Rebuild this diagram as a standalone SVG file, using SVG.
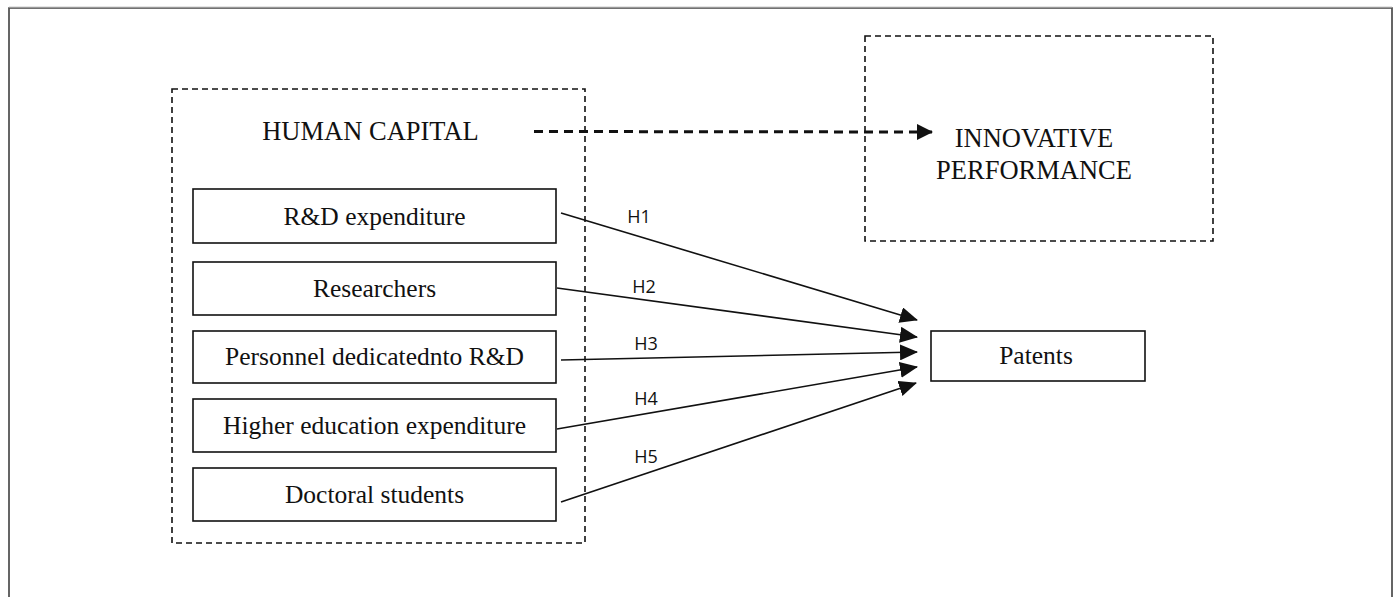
<svg xmlns="http://www.w3.org/2000/svg" width="1395" height="597" viewBox="0 0 1395 597">
<style>
.box{fill:#fff;stroke:#111;stroke-width:1.6}
.dbox{fill:none;stroke:#111;stroke-width:1.6;stroke-dasharray:6 4}
.t{font-family:"Liberation Serif","Times New Roman",serif;font-size:25.5px;fill:#111;text-anchor:middle}
.tl{font-size:26.5px}
.h{font-family:"Open Sans","Liberation Sans",sans-serif;font-size:18px;fill:#111;text-anchor:middle}
.arr{stroke:#111;stroke-width:1.6;fill:none;marker-end:url(#ah)}
</style>
<defs>
<marker id="ah" markerUnits="userSpaceOnUse" markerWidth="18" markerHeight="16" viewBox="0 0 18 16" refX="17" refY="8" orient="auto">
<path d="M0,0 L18,8 L0,16 Z" fill="#111"/>
</marker>
<marker id="ah2" markerUnits="userSpaceOnUse" markerWidth="16" markerHeight="16" viewBox="0 0 16 16" refX="15" refY="8" orient="auto">
<path d="M0,0 L16,8 L0,16 Z" fill="#111"/>
</marker>
</defs>
<rect width="1395" height="597" fill="#fff"/>
<g id="frame">
<path d="M9,600 V8 H1392 V600" fill="none" stroke="#333" stroke-width="1.5"/>
<line x1="9" y1="7.5" x2="1392" y2="7.5" stroke="#999" stroke-width="1.5"/>
</g>
<g id="human-capital">
<rect class="dbox" x="172" y="89" width="413" height="454"/>
<text class="t tl" x="370.5" y="140">HUMAN CAPITAL</text>
</g>
<g id="innovative-performance">
<rect class="dbox" x="865" y="36" width="348" height="205"/>
<text class="t tl" x="1034" y="147">INNOVATIVE</text>
<text class="t tl" x="1034" y="179">PERFORMANCE</text>
</g>
<g id="rd-expenditure">
<rect class="box" x="193" y="189" width="363" height="54"/>
<text class="t" x="374.5" y="225">R&amp;D expenditure</text>
</g>
<g id="researchers">
<rect class="box" x="193" y="262" width="363" height="53"/>
<text class="t" x="374.5" y="297">Researchers</text>
</g>
<g id="personnel">
<rect class="box" x="193" y="331" width="363" height="52"/>
<text class="t" x="374.5" y="365">Personnel dedicatednto R&amp;D</text>
</g>
<g id="higher-education">
<rect class="box" x="193" y="399" width="363" height="53"/>
<text class="t" x="374.5" y="434">Higher education expenditure</text>
</g>
<g id="doctoral-students">
<rect class="box" x="193" y="468" width="363" height="53"/>
<text class="t" x="374.5" y="503">Doctoral students</text>
</g>
<g id="patents">
<rect class="box" x="931" y="331" width="214" height="50"/>
<text class="t" x="1036" y="364">Patents</text>
</g>
<g id="connectors">
<line x1="534" y1="131.5" x2="932" y2="132" stroke="#111" stroke-width="3" stroke-dasharray="9 6" marker-end="url(#ah2)"/>
<line class="arr" x1="561" y1="213" x2="917" y2="320"/>
<line class="arr" x1="557" y1="288" x2="917" y2="337"/>
<line class="arr" x1="561" y1="360" x2="917" y2="352"/>
<line class="arr" x1="557" y1="429" x2="917" y2="367"/>
<line class="arr" x1="561" y1="502" x2="916" y2="383"/>
<text class="h" x="639" y="223">H1</text>
<text class="h" x="644" y="293">H2</text>
<text class="h" x="646" y="350">H3</text>
<text class="h" x="646" y="405">H4</text>
<text class="h" x="646" y="463">H5</text>
</g>
</svg>
